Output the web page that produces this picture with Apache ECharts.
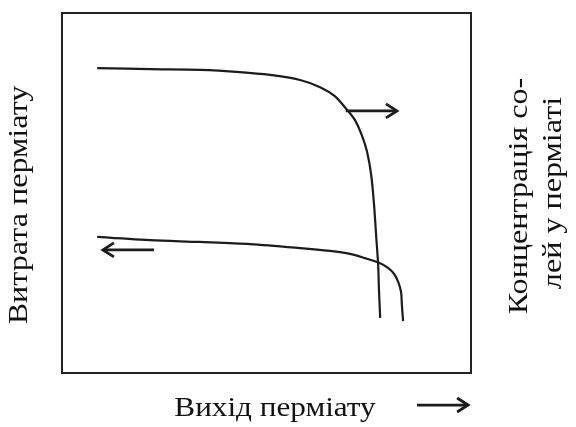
<!DOCTYPE html>
<html>
<head>
<meta charset="utf-8">
<script src="https://cdn.jsdelivr.net/npm/echarts@6/dist/echarts.min.js"></script>
<style>html,body{margin:0;padding:0;background:#fff;}#c{width:576px;height:427px;}</style>
</head>
<body>
<div id="c"></div>
<script>
// Schematic data, axis units 0..100 (permeate yield on x)
const upperX = [8.6, 21.5, 33.7, 43.5, 50.9, 58.2, 63.1, 66.7, 69.7, 71.6, 73.3, 74.6, 75.6, 76.3, 76.8, 77.3, 77.5, 77.8];
const upperY = [84.7, 84.4, 84.2, 83.6, 82.8, 81.4, 79.4, 76.9, 73.1, 70.3, 66.1, 61.4, 55.0, 46.7, 38.3, 30.0, 23.1, 15.3];
const lowerX = [8.6, 21.5, 33.7, 46.0, 58.2, 65.5, 70.4, 74.1, 77.5, 79.7, 81.2, 82.2, 82.9, 83.1, 83.4];
const lowerY = [37.8, 36.9, 36.4, 35.8, 34.7, 33.9, 33.1, 31.9, 30.6, 29.2, 27.5, 25.3, 22.5, 18.9, 14.4];
// arrows: [fromX, fromY, toX, toY]
const arrows = [
  [69.4, 72.8, 81.9, 72.8],
  [22.5, 34.2, 10.0, 34.2],
  [86.8, -8.9, 99.3, -8.9]
];
const xTitle = 'Вихід перміату';
const yTitle = 'Витрата перміату';
const y2Title = ['Концентрація со-', 'лей у перміаті'];

const zip = (a, b) => a.map((v, i) => [v, b[i]]);
const FONT = '"Liberation Serif", "Times New Roman", serif';
const INK = '#1c1c1c';
const TXT = {font: '27px ' + FONT, fill: '#111', align: 'center', verticalAlign: 'middle'};
const SX = 1.19;

const chart = echarts.init(document.getElementById('c'), null, {renderer: 'canvas'});
chart.setOption({
  animation: false,
  backgroundColor: '#fff',
  grid: {left: 62, top: 13, width: 409, height: 360, show: true, borderColor: '#222', borderWidth: 2, backgroundColor: 'transparent'},
  xAxis: {type: 'value', min: 0, max: 100, show: false},
  yAxis: {type: 'value', min: 0, max: 100, show: false},
  series: [
    {type: 'line', data: zip(upperX, upperY), smooth: 0.3, showSymbol: false, lineStyle: {color: INK, width: 2.2}},
    {type: 'line', data: zip(lowerX, lowerY), smooth: 0.3, showSymbol: false, lineStyle: {color: INK, width: 2.2}},
    {
      type: 'custom',
      clip: false,
      encode: {x: [0, 2], y: [1, 3]},
      data: arrows,
      renderItem: function (params, api) {
        const p1 = api.coord([api.value(0), api.value(1)]);
        const p2 = api.coord([api.value(2), api.value(3)]);
        const dx = p2[0] - p1[0], dy = p2[1] - p1[1];
        const len = Math.sqrt(dx * dx + dy * dy);
        const ux = dx / len, uy = dy / len;
        const hl = 11, hw = 7;
        const b = [p2[0] - ux * hl, p2[1] - uy * hl];
        const a1 = [b[0] - uy * hw, b[1] + ux * hw];
        const a2 = [b[0] + uy * hw, b[1] - ux * hw];
        const st = {stroke: INK, lineWidth: 2.8, fill: null, lineJoin: 'miter', lineCap: 'butt'};
        return {
          type: 'group',
          children: [
            {type: 'line', shape: {x1: p1[0], y1: p1[1], x2: p2[0] - ux * 1.5, y2: p2[1] - uy * 1.5}, style: st},
            {type: 'polyline', shape: {points: [a1, p2, a2]}, style: st}
          ]
        };
      }
    }
  ],
  graphic: [
    {type: 'text', x: 275, y: 409, scaleX: 1.155, style: Object.assign({text: xTitle}, TXT)},
    {type: 'text', x: 20, y: 205, rotation: Math.PI / 2, scaleX: SX, style: Object.assign({text: yTitle}, TXT)},
    {type: 'text', x: 520, y: 196, rotation: Math.PI / 2, scaleX: SX, style: Object.assign({text: y2Title[0]}, TXT)},
    {type: 'text', x: 554, y: 193, rotation: Math.PI / 2, scaleX: SX, style: Object.assign({text: y2Title[1]}, TXT)}
  ]
});
</script>
</body>
</html>
